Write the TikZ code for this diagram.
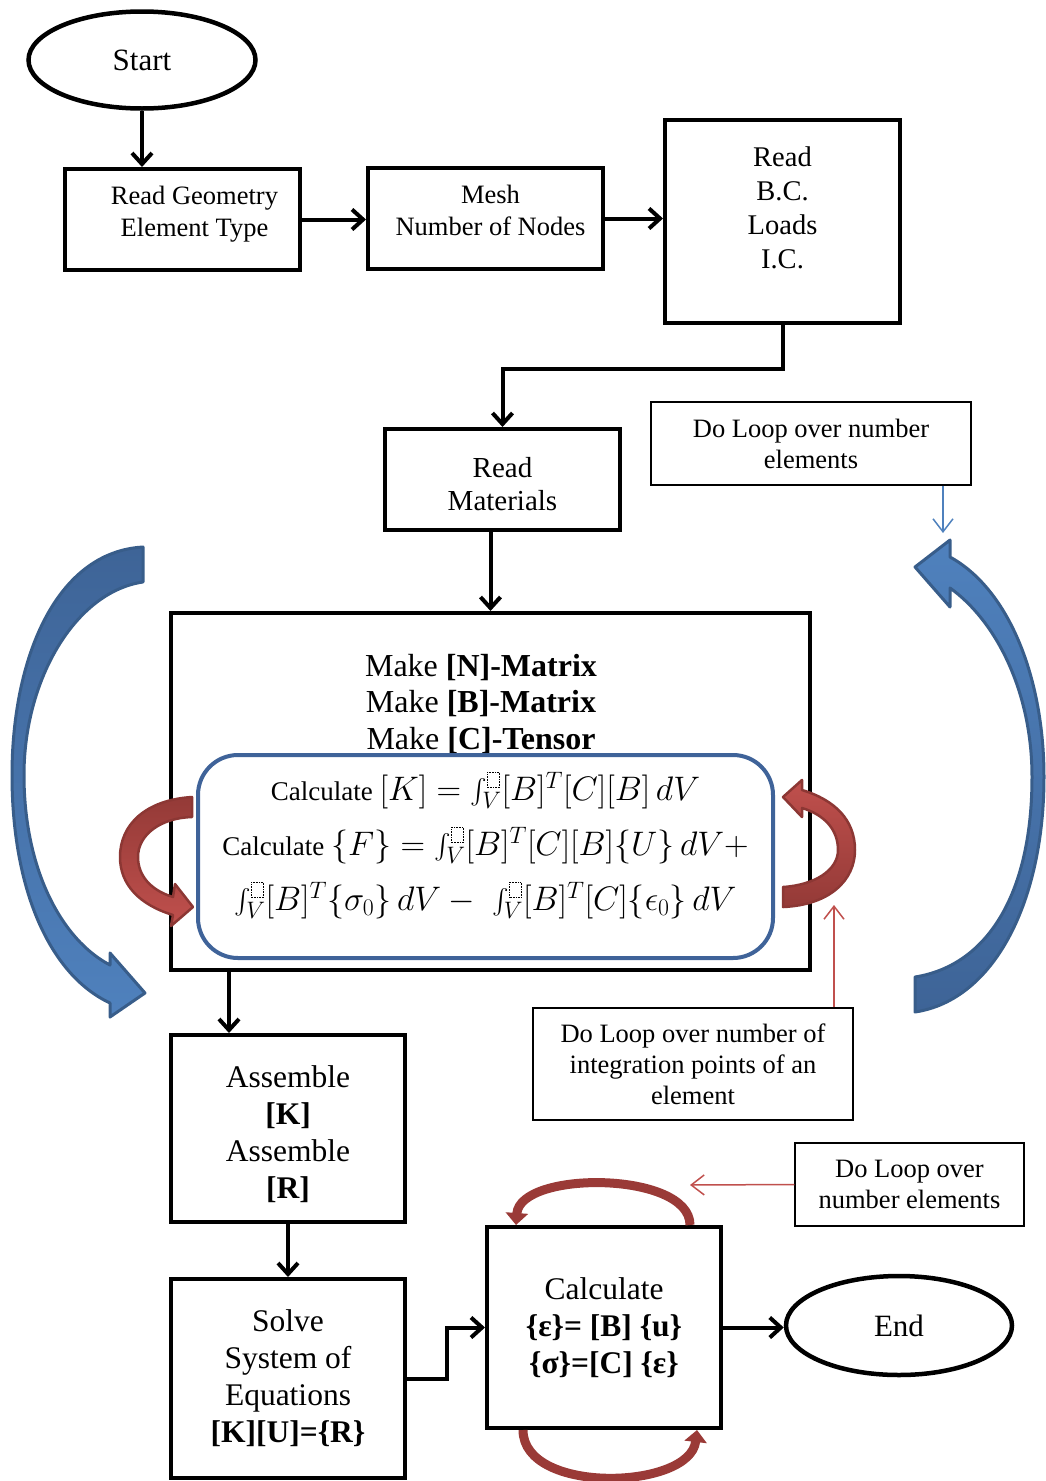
\RequirePackage{fix-cm}
\documentclass[tikz,border=0pt]{standalone}
\usepackage{fontspec}
\setmainfont{Liberation Serif}
\usepackage{amsmath}
\usetikzlibrary{shapes.geometric,arrows.meta}

\definecolor{fbblue}{HTML}{3F6399}
\definecolor{loopblue}{HTML}{4F81BD}
\definecolor{loopbluedark}{HTML}{3E6497}
\definecolor{loopedge}{HTML}{385D8A}
\definecolor{loopred}{HTML}{C0504D}
\definecolor{loopreddark}{HTML}{943A37}
\definecolor{redge}{HTML}{8C3734}
\definecolor{arcred}{HTML}{9A3A37}
\definecolor{notered}{HTML}{C0504D}
\definecolor{noteblue}{HTML}{4F81BD}

% dotted placeholder of the integral limits
\newcommand{\phbox}{\tikz[baseline=0pt]\draw[black,sharp corners,line width=0.6pt,densely dotted] (0pt,0pt) rectangle (12pt,15pt);}
% math a little larger than the text round it
\newcommand{\mth}[1]{{\fontsize{34}{55}\selectfont$#1$}}
% lines of a box, moved up or down inside it
\newcommand{\lift}[2]{\raisebox{#1}[\height][\depth]{\begin{tabular}{@{}c@{}}#2\end{tabular}}}

\begin{document}
\begin{tikzpicture}[x=1pt,y=-1pt,
  box/.style={draw,line width=4pt,align=center,inner sep=0pt,font=\fontsize{31.5}{37}\selectfont},
  oval/.style={draw,ellipse,line width=4.5pt,inner sep=0pt,font=\fontsize{31}{37}\selectfont},
  note/.style={draw,line width=1.2pt,align=center,inner sep=0pt,font=\fontsize{26.5}{31}\selectfont},
  flow/.style={line width=4pt,-{Straight Barb[length=11pt,width=20pt]}},
  thinblue/.style={noteblue,line width=1.5pt,-{Straight Barb[length=13pt,width=20pt]}},
  thinred/.style={notered,line width=1.5pt,-{Straight Barb[length=13pt,width=20pt]}},
  redarc/.style={arcred,line width=9pt,-{Triangle[length=12pt,width=22pt]}}]

\useasboundingbox (0,0) rectangle (1046,1481);

% Top row
\node[oval,minimum width=227,minimum height=97] (start) at (142,60) {\lift{-3pt}{Start}};
\node[box,minimum width=235,minimum height=101,font=\fontsize{26.5}{32}\selectfont] (geom) at (182.5,219.5) {\hspace*{24pt}\lift{5pt}{Read Geometry\\Element Type}};
\node[box,minimum width=235,minimum height=101,font=\fontsize{26.5}{32}\selectfont] (mesh) at (485.5,218.5) {\hspace*{10pt}\lift{5pt}{Mesh\\Number of Nodes}};
\node[box,minimum width=235,minimum height=203,font=\fontsize{28.5}{34}\selectfont] (bc) at (782.5,221.5) {\lift{11pt}{Read\\B.C.\\Loads\\I.C.}};
\node[box,minimum width=235,minimum height=101,font=\fontsize{29}{33}\selectfont] (mat) at (502.5,479.5) {\lift{-8pt}{Read\\Materials}};

\draw[flow] (start.south) -- (start.south |- geom.north);
\draw[flow] (geom.east) -- (geom.east -| mesh.west);
\draw[flow] (mesh.east) -- (mesh.east -| bc.west);
\draw[flow] (bc.south) -- ++(0,44) -| (mat.north);

% Element box
\node[box,minimum width=639,minimum height=357] (elem) at (490.5,791.5) {};
\node[align=center,inner sep=0pt,font=\fontsize{32}{36.5}\selectfont] (make) at (481,704)
  {Make \textbf{[N]-Matrix}\\Make \textbf{[B]-Matrix}\\Make \textbf{[C]-Tensor}};
\node[draw=fbblue,line width=4pt,rounded corners=40pt,minimum width=575,minimum height=203,
  inner sep=0pt,font=\fontsize{27}{55}\selectfont] (gauss) at (485.5,856.5)
  {\lift{12pt}{Calculate \mth{[K]=\int_V^{\phbox}[B]^T[C][B]\,dV}\\
   Calculate \mth{\{F\}=\int_V^{\phbox}[B]^T[C][B]\{U\}\,dV+}\\
   \mth{\int_V^{\phbox}[B]^T\{\sigma_0\}\,dV-\;\int_V^{\phbox}[B]^T[C]\{\epsilon_0\}\,dV}}};
\draw[flow] (mat.south -| elem.north) -- (elem.north);

% Lower boxes
\node[box,minimum width=234,minimum height=187] (asm) at (288,1128.5) {\lift{-7pt}{Assemble\\\textbf{[K]}\\Assemble\\\textbf{[R]}}};
\node[box,minimum width=234,minimum height=199] (solve) at (288,1378.5) {Solve\\System of\\Equations\\\textbf{[K][U]=\{R\}}};
\node[box,minimum width=234,minimum height=201] (calc) at (604,1327.5) {Calculate\\\textbf{\{ε\}= [B] \{u\}}\\\textbf{\{σ\}=[C] \{ε\}}};
\node[oval,minimum width=226,minimum height=99] (end) at (899,1325.5) {End};

\draw[flow] ([xshift=60]elem.south west) -- ([xshift=60]elem.south west |- asm.north);
\draw[flow] (asm) -- (solve);
\draw[flow] (solve.east) -- ++(40,0) |- (calc.west);
\draw[flow] (calc.east) -- (calc.east -| end.west);

% Notes
\node[note,minimum width=320,minimum height=83] (note1) at (811,443.5) {Do Loop over number\\elements};
\node[note,minimum width=320,minimum height=112] (note2) at (693,1064) {Do Loop over number of\\integration points of an\\element};
\node[note,minimum width=229,minimum height=83] (note3) at (909.5,1184.5) {Do Loop over\\number elements};

\coordinate (outerloop) at (943,533);
\coordinate (gaussloop) at (834,905);
\coordinate (strainloop) at (690,1185);
\draw[thinblue] ([xshift=132]note1.south) -- (outerloop);
\draw[thinred] ([xshift=141]note2.north) -- (gaussloop);
\draw[thinred] (note3.west) -- (strainloop);

% Left blue arrow
\draw[loopedge,line width=3pt,line join=round,top color=loopbluedark,bottom color=loopblue]
  (143,547) .. controls (55,552) and (12,660) .. (12,775)
  .. controls (12,890) and (50,975) .. (110,1003) -- (110,1017) -- (145,993) -- (110,953) -- (110,965)
  .. controls (62,940) and (24,870) .. (24,775)
  .. controls (24,680) and (75,592) .. (143,582) -- cycle;

% Right blue arrow
\draw[loopedge,line width=3pt,line join=round,top color=loopblue,bottom color=loopbluedark]
  (915,1012) .. controls (995,1000) and (1044,900) .. (1044,777)
  .. controls (1044,680) and (1010,590) .. (950,557) -- (950,540) -- (915,567) -- (950,607) -- (950,588)
  .. controls (995,620) and (1032,690) .. (1032,777)
  .. controls (1032,890) and (990,965) .. (915,977) -- cycle;

% Red loops round the integration box
\draw[redge,line width=2.5pt,line join=round,top color=loopreddark,bottom color=loopred]
  (192,797) .. controls (145,800) and (120,825) .. (120,857)
  .. controls (120,885) and (140,905) .. (173,915) -- (171,926) -- (193,907) -- (175,884) -- (173,897)
  .. controls (150,890) and (138,875) .. (138,857)
  .. controls (138,835) and (160,818) .. (192,817) -- cycle;
\draw[redge,line width=2.5pt,line join=round,top color=loopred,bottom color=loopreddark]
  (783,907) .. controls (830,905) and (855,880) .. (855,850)
  .. controls (855,820) and (835,800) .. (802,790) -- (802,780) -- (783,797) -- (802,817) -- (802,808)
  .. controls (825,815) and (838,830) .. (838,850)
  .. controls (838,870) and (815,885) .. (783,887) -- cycle;

% Red loops round the strain box
\draw[redarc] ([xshift=86]calc.north) .. controls ++(0,-54) and (520,1170) .. ([xshift=-88]calc.north);
\draw[redarc] ([xshift=-81]calc.south) .. controls ++(0,65) and (690,1490) .. ([xshift=93]calc.south);

\end{tikzpicture}
\end{document}
